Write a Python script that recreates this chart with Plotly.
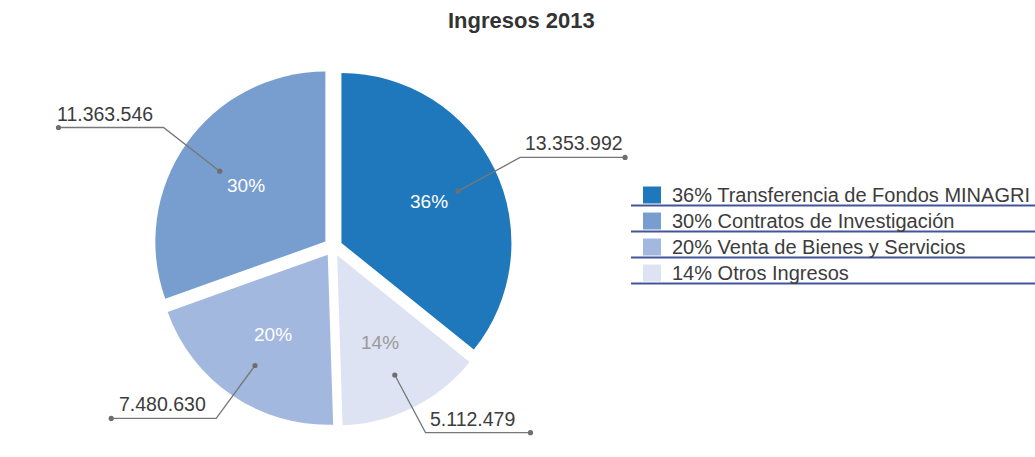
import math
import plotly.graph_objects as go

# Income sources for 2013 (CLP)
labels = [
    "Transferencia de Fondos MINAGRI",
    "Contratos de Investigación",
    "Venta de Bienes y Servicios",
    "Otros Ingresos",
]
values = [13353992, 11363546, 7480630, 5112479]
colors = ["#1f78bb", "#779ecf", "#a3b8de", "#dde3f2"]
pct_colors = ["#ffffff", "#ffffff", "#ffffff", "#9a9a9a"]

W, H = 1035, 457
PULL = 0.055
CX, CY, R = 333, 247, 170          # pie centre and radius in pixels
HALF = R * (1 + PULL)
FONT = "Liberation Sans, Arial, sans-serif"

total = sum(values)
shares = [v / total for v in values]
# counterclockwise from 12 o'clock: the first slice ends at the top
first_end = shares[0] * 360


def px(x, y):
    return x / W, 1 - y / H


def fmt(v):
    return f"{v:,}".replace(",", ".")


fig = go.Figure(go.Pie(
    labels=labels,
    values=values,
    sort=False,
    direction="counterclockwise",
    rotation=0,
    pull=PULL,
    marker=dict(colors=colors, line=dict(width=0)),
    textinfo="none",
    hoverinfo="label+value+percent",
    showlegend=False,
    domain=dict(x=[(CX - HALF) / W, (CX + HALF) / W],
                y=[1 - (CY + HALF) / H, 1 - (CY - HALF) / H]),
))

shapes = []
annotations = []

# percentage inside each slice, leader line and value label outside,
# all placed along the slice mid angle
cum = 0.0
for v, s, pc in zip(values, shares, pct_colors):
    mid = first_end - (cum + s / 2) * 360
    cum += s
    a = math.radians(mid)
    ux, uy = math.sin(a), -math.cos(a)
    pcx, pcy = CX + PULL * R * ux, CY + PULL * R * uy

    lx, ly = pcx + 0.57 * R * ux, pcy + 0.57 * R * uy
    annotations.append(dict(
        x=lx / W, y=1 - ly / H, xref="paper", yref="paper",
        text=f"{round(s * 100)}%", showarrow=False,
        xanchor="center", yanchor="middle",
        font=dict(family=FONT, size=19, color=pc),
    ))

    x0, y0 = pcx + 0.76 * R * ux, pcy + 0.76 * R * uy + 4
    x1, y1 = CX + 1.22 * R * ux, CY + 1.22 * R * uy
    side = 1 if ux >= 0 else -1
    x2 = x1 + side * 105
    p0, p1, p2 = px(x0, y0), px(x1, y1), px(x2, y1)
    shapes.append(dict(type="path", xref="paper", yref="paper",
                       path=f"M {p0[0]},{p0[1]} L {p1[0]},{p1[1]} L {p2[0]},{p2[1]}",
                       line=dict(color="#777777", width=1.3)))
    for (xx, yy) in [(x0, y0), (x2, y1)]:
        a0, b0 = px(xx - 2.6, yy + 2.6)
        a1, b1 = px(xx + 2.6, yy - 2.6)
        shapes.append(dict(type="circle", xref="paper", yref="paper",
                           x0=a0, y0=b0, x1=a1, y1=b1,
                           fillcolor="#6e6e6e", line=dict(width=0)))
    tx = x1 + 3 if side > 0 else x1 - 8
    annotations.append(dict(
        x=tx / W, y=1 - (y1 - 1) / H, xref="paper", yref="paper",
        text=fmt(v), showarrow=False,
        xanchor="left" if side > 0 else "right", yanchor="bottom",
        font=dict(family=FONT, size=19.5, color="#3c3c3c"),
    ))

# legend: colour swatch, label and rule under each row
ROW0, STEP = 195, 26
for i, (lab, s, c) in enumerate(zip(labels, shares, colors)):
    yc = ROW0 + i * STEP
    a0, b0 = px(643, yc + 8.5)
    a1, b1 = px(661, yc - 8.5)
    shapes.append(dict(type="rect", xref="paper", yref="paper",
                       x0=a0, y0=b0, x1=a1, y1=b1, fillcolor=c, line=dict(width=0)))
    la, lb = px(631, yc + 10.5)
    shapes.append(dict(type="line", xref="paper", yref="paper",
                       x0=la, y0=lb, x1=1, y1=lb, line=dict(color="#44549a", width=2)))
    annotations.append(dict(
        x=670 / W, y=1 - yc / H, xref="paper", yref="paper",
        text=f"{round(s * 100)}% {lab}", showarrow=False,
        xanchor="left", yanchor="middle",
        font=dict(family=FONT, size=20, color="#3c3c3c"),
    ))

annotations.append(dict(
    x=521 / W, y=1 - 21 / H, xref="paper", yref="paper",
    text="<b>Ingresos 2013</b>", showarrow=False,
    xanchor="center", yanchor="middle",
    font=dict(family=FONT, size=22, color="#333333"),
))

fig.update_layout(
    width=W, height=H,
    margin=dict(l=0, r=0, t=0, b=0),
    paper_bgcolor="white",
    plot_bgcolor="white",
    shapes=shapes,
    annotations=annotations,
)

fig.write_html("out.html")
